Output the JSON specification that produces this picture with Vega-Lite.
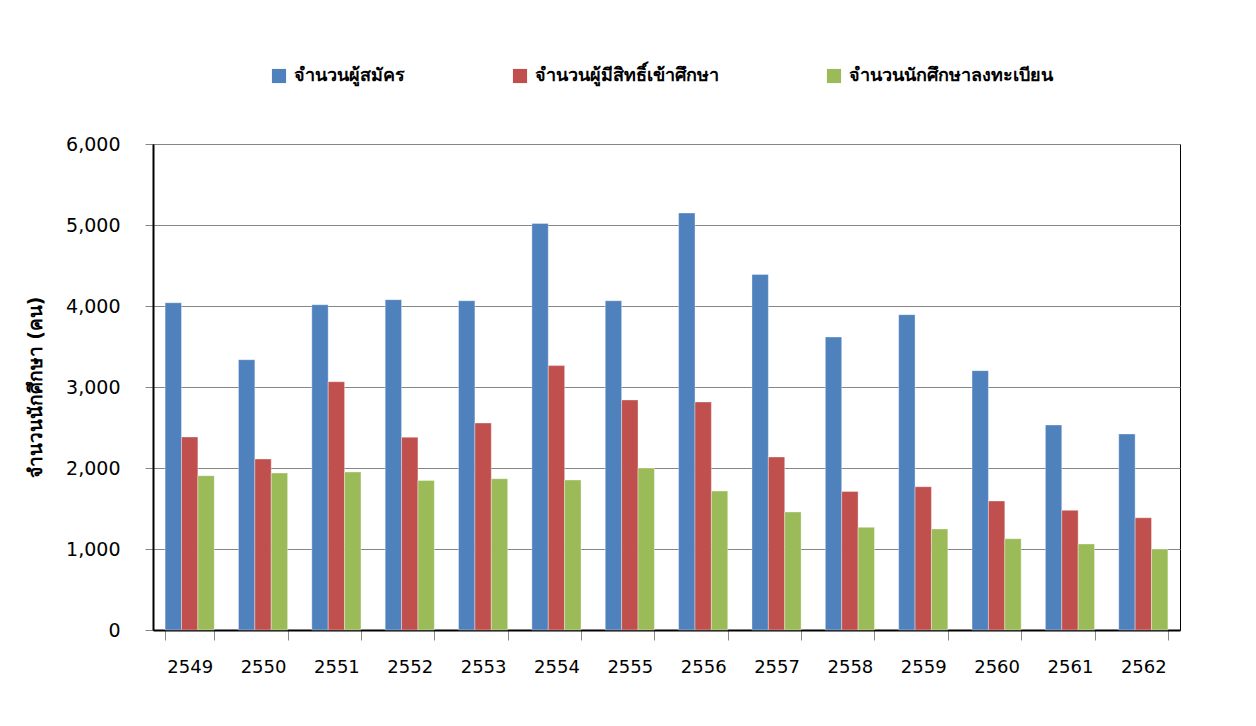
{
  "$schema": "https://vega.github.io/schema/vega-lite/v6.json",
  "autosize": "none",
  "width": 1027,
  "height": 486,
  "padding": {"left": 153, "top": 144, "right": 76, "bottom": 96},
  "background": "white",
  "config": {
    "font": "Tahoma, DejaVu Sans, Noto Sans",
    "view": {"stroke": "#000000", "strokeWidth": 1}
  },
  "data": {
    "values": [
      {"year": "2549", "series": "จำนวนผู้สมัคร", "value": 4040},
      {"year": "2549", "series": "จำนวนผู้มีสิทธิ์เข้าศึกษา", "value": 2383},
      {"year": "2549", "series": "จำนวนนักศึกษาลงทะเบียน", "value": 1905},
      {"year": "2550", "series": "จำนวนผู้สมัคร", "value": 3337},
      {"year": "2550", "series": "จำนวนผู้มีสิทธิ์เข้าศึกษา", "value": 2111},
      {"year": "2550", "series": "จำนวนนักศึกษาลงทะเบียน", "value": 1938},
      {"year": "2551", "series": "จำนวนผู้สมัคร", "value": 4016},
      {"year": "2551", "series": "จำนวนผู้มีสิทธิ์เข้าศึกษา", "value": 3065},
      {"year": "2551", "series": "จำนวนนักศึกษาลงทะเบียน", "value": 1951},
      {"year": "2552", "series": "จำนวนผู้สมัคร", "value": 4078},
      {"year": "2552", "series": "จำนวนผู้มีสิทธิ์เข้าศึกษา", "value": 2380},
      {"year": "2552", "series": "จำนวนนักศึกษาลงทะเบียน", "value": 1847},
      {"year": "2553", "series": "จำนวนผู้สมัคร", "value": 4065},
      {"year": "2553", "series": "จำนวนผู้มีสิทธิ์เข้าศึกษา", "value": 2556},
      {"year": "2553", "series": "จำนวนนักศึกษาลงทะเบียน", "value": 1868},
      {"year": "2554", "series": "จำนวนผู้สมัคร", "value": 5020},
      {"year": "2554", "series": "จำนวนผู้มีสิทธิ์เข้าศึกษา", "value": 3264},
      {"year": "2554", "series": "จำนวนนักศึกษาลงทะเบียน", "value": 1852},
      {"year": "2555", "series": "จำนวนผู้สมัคร", "value": 4065},
      {"year": "2555", "series": "จำนวนผู้มีสิทธิ์เข้าศึกษา", "value": 2840},
      {"year": "2555", "series": "จำนวนนักศึกษาลงทะเบียน", "value": 2000},
      {"year": "2556", "series": "จำนวนผู้สมัคร", "value": 5148},
      {"year": "2556", "series": "จำนวนผู้มีสิทธิ์เข้าศึกษา", "value": 2815},
      {"year": "2556", "series": "จำนวนนักศึกษาลงทะเบียน", "value": 1716},
      {"year": "2557", "series": "จำนวนผู้สมัคร", "value": 4390},
      {"year": "2557", "series": "จำนวนผู้มีสิทธิ์เข้าศึกษา", "value": 2136},
      {"year": "2557", "series": "จำนวนนักศึกษาลงทะเบียน", "value": 1457},
      {"year": "2558", "series": "จำนวนผู้สมัคร", "value": 3617},
      {"year": "2558", "series": "จำนวนผู้มีสิทธิ์เข้าศึกษา", "value": 1710},
      {"year": "2558", "series": "จำนวนนักศึกษาลงทะเบียน", "value": 1267},
      {"year": "2559", "series": "จำนวนผู้สมัคร", "value": 3893},
      {"year": "2559", "series": "จำนวนผู้มีสิทธิ์เข้าศึกษา", "value": 1769},
      {"year": "2559", "series": "จำนวนนักศึกษาลงทะเบียน", "value": 1247},
      {"year": "2560", "series": "จำนวนผู้สมัคร", "value": 3202},
      {"year": "2560", "series": "จำนวนผู้มีสิทธิ์เข้าศึกษา", "value": 1593},
      {"year": "2560", "series": "จำนวนนักศึกษาลงทะเบียน", "value": 1127},
      {"year": "2561", "series": "จำนวนผู้สมัคร", "value": 2531},
      {"year": "2561", "series": "จำนวนผู้มีสิทธิ์เข้าศึกษา", "value": 1477},
      {"year": "2561", "series": "จำนวนนักศึกษาลงทะเบียน", "value": 1062},
      {"year": "2562", "series": "จำนวนผู้สมัคร", "value": 2420},
      {"year": "2562", "series": "จำนวนผู้มีสิทธิ์เข้าศึกษา", "value": 1386},
      {"year": "2562", "series": "จำนวนนักศึกษาลงทะเบียน", "value": 1000}
    ]
  },
  "mark": {"type": "bar", "stroke": "white", "strokeWidth": 0.6, "strokeOpacity": 0.6},
  "encoding": {
    "x": {
      "field": "year",
      "type": "ordinal",
      "scale": {"paddingInner": 0.33, "paddingOuter": 0.165},
      "axis": {
        "title": null,
        "labelAngle": 0,
        "labelFontSize": 18,
        "labelColor": "#000000",
        "labelPadding": 18,
        "tickBand": "extent",
        "tickSize": 10,
        "tickColor": "#888888",
        "domainColor": "#000000",
        "domainWidth": 2
      }
    },
    "xOffset": {
      "field": "series",
      "sort": ["จำนวนผู้สมัคร", "จำนวนผู้มีสิทธิ์เข้าศึกษา", "จำนวนนักศึกษาลงทะเบียน"]
    },
    "y": {
      "field": "value",
      "type": "quantitative",
      "scale": {"domain": [0, 6000], "nice": false},
      "axis": {
        "title": "จำนวนนักศึกษา (คน)",
        "titleFontSize": 19,
        "titleFontWeight": "bold",
        "titleColor": "#000000",
        "titlePadding": 20,
        "values": [0, 1000, 2000, 3000, 4000, 5000, 6000],
        "format": ",d",
        "labelFontSize": 19,
        "labelColor": "#000000",
        "labelPadding": 25,
        "tickSize": 8,
        "tickColor": "#888888",
        "domainColor": "#000000",
        "domainWidth": 2,
        "gridColor": "#868686",
        "gridWidth": 1.2,
        "gridOpacity": 1
      }
    },
    "color": {
      "field": "series",
      "type": "nominal",
      "sort": ["จำนวนผู้สมัคร", "จำนวนผู้มีสิทธิ์เข้าศึกษา", "จำนวนนักศึกษาลงทะเบียน"],
      "scale": {
        "domain": ["จำนวนผู้สมัคร", "จำนวนผู้มีสิทธิ์เข้าศึกษา", "จำนวนนักศึกษาลงทะเบียน"],
        "range": ["#4F81BD", "#C0504D", "#9BBB59"]
      },
      "legend": {
        "title": null,
        "orient": "none",
        "legendX": 117,
        "legendY": -77,
        "direction": "horizontal",
        "columns": 3,
        "columnPadding": 106,
        "symbolType": "square",
        "symbolSize": 200,
        "symbolStrokeWidth": 0,
        "labelFontSize": 18,
        "labelFontWeight": "bold",
        "labelColor": "#000000",
        "labelLimit": 400,
        "labelOffset": 6
      }
    }
  }
}
